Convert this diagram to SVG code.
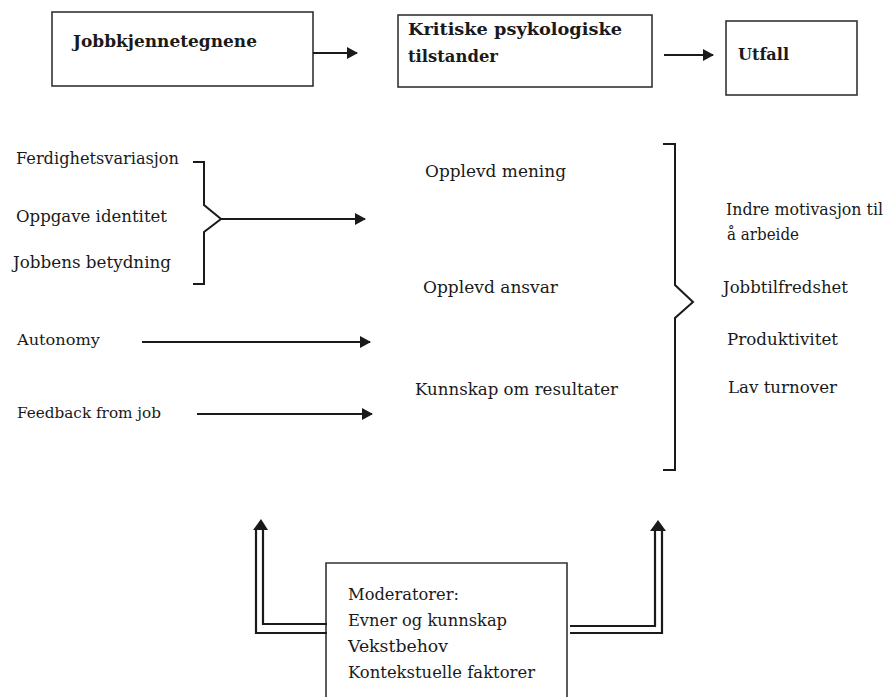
<svg xmlns="http://www.w3.org/2000/svg" width="894" height="697" viewBox="0 0 894 697">
<style>
  .t { font-family: "DejaVu Serif", "Liberation Serif", serif; font-size: 17px; fill: #1a1a1a; }
  .b { font-weight: bold; }
  .s { font-size: 14px; }
  .box { fill: #ffffff; stroke: #333333; stroke-width: 1.6; }
  .ln { fill: none; stroke: #1a1a1a; stroke-width: 2; }
  .dl { fill: none; stroke: #1a1a1a; stroke-width: 2.2; }
</style>
<defs>
  <marker id="ah" markerWidth="11" markerHeight="12" refX="10" refY="6" orient="auto" markerUnits="userSpaceOnUse">
    <path d="M0,0 L11,6 L0,12 Z" fill="#1a1a1a"/>
  </marker>
</defs>
<rect width="894" height="697" fill="#ffffff"/>

<g id="node-jobbkjennetegnene">
  <rect class="box" x="52" y="12" width="261" height="74"/>
  <text class="t b" x="73" y="47" textLength="184" lengthAdjust="spacingAndGlyphs">Jobbkjennetegnene</text>
</g>
<g id="node-kritiske">
  <rect class="box" x="398" y="15" width="254" height="72"/>
  <text class="t b" x="408" y="35" textLength="214" lengthAdjust="spacingAndGlyphs">Kritiske psykologiske</text>
  <text class="t b" x="408" y="62" textLength="90" lengthAdjust="spacingAndGlyphs">tilstander</text>
</g>
<g id="node-utfall">
  <rect class="box" x="726" y="21" width="131" height="74"/>
  <text class="t b" x="738" y="60" textLength="51" lengthAdjust="spacingAndGlyphs">Utfall</text>
</g>

<g id="node-jobbkjennetegn-liste">
  <text class="t" x="16" y="164" textLength="163" lengthAdjust="spacingAndGlyphs">Ferdighetsvariasjon</text>
  <text class="t" x="16" y="222" textLength="151" lengthAdjust="spacingAndGlyphs">Oppgave identitet</text>
  <text class="t" x="13" y="268" textLength="158" lengthAdjust="spacingAndGlyphs">Jobbens betydning</text>
  <text class="t s" x="17" y="345" textLength="83" lengthAdjust="spacingAndGlyphs">Autonomy</text>
  <text class="t s" x="17" y="418" textLength="144" lengthAdjust="spacingAndGlyphs">Feedback from job</text>
</g>

<g id="node-tilstander-liste">
  <text class="t" x="425" y="177" textLength="141" lengthAdjust="spacingAndGlyphs">Opplevd mening</text>
  <text class="t" x="423" y="293" textLength="135" lengthAdjust="spacingAndGlyphs">Opplevd ansvar</text>
  <text class="t" x="415" y="395" textLength="203" lengthAdjust="spacingAndGlyphs">Kunnskap om resultater</text>
</g>

<g id="node-utfall-liste">
  <text class="t" x="726" y="215" textLength="157" lengthAdjust="spacingAndGlyphs">Indre motivasjon til</text>
  <text class="t" x="727" y="240" textLength="72" lengthAdjust="spacingAndGlyphs">å arbeide</text>
  <text class="t" x="723" y="293" textLength="125" lengthAdjust="spacingAndGlyphs">Jobbtilfredshet</text>
  <text class="t" x="727" y="345" textLength="111" lengthAdjust="spacingAndGlyphs">Produktivitet</text>
  <text class="t" x="728" y="393" textLength="109" lengthAdjust="spacingAndGlyphs">Lav turnover</text>
</g>

<g id="node-moderatorer">
  <path class="box" d="M326,700 L326,563 L567,563 L567,700"/>
  <text class="t" x="348" y="600" textLength="111" lengthAdjust="spacingAndGlyphs">Moderatorer:</text>
  <text class="t" x="348" y="626" textLength="159" lengthAdjust="spacingAndGlyphs">Evner og kunnskap</text>
  <text class="t" x="348" y="652" textLength="100" lengthAdjust="spacingAndGlyphs">Vekstbehov</text>
  <text class="t" x="348" y="678" textLength="187" lengthAdjust="spacingAndGlyphs">Kontekstuelle faktorer</text>
</g>

<g id="connectors">
  <line class="ln" x1="313" y1="53" x2="357" y2="53" marker-end="url(#ah)"/>
  <line class="ln" x1="664" y1="55" x2="713" y2="55" marker-end="url(#ah)"/>
  <path class="ln" d="M193,162 L204,162 L204,205 L221,219 L204,232 L204,284 L193,284"/>
  <line class="ln" x1="221" y1="219" x2="365" y2="219" marker-end="url(#ah)"/>
  <line class="ln" x1="142" y1="342" x2="370" y2="342" marker-end="url(#ah)"/>
  <line class="ln" x1="197" y1="414" x2="372" y2="414" marker-end="url(#ah)"/>
  <path class="ln" d="M663,144 L675,144 L675,285 L693,302 L675,318 L675,470 L663,470"/>
  <path class="dl" d="M327,633 L256,633 L256,530"/>
  <path class="dl" d="M327,624 L263,624 L263,530"/>
  <path d="M261,519 L268,530 L253,530 Z" fill="#1a1a1a"/>
  <path class="dl" d="M570,626 L655,626 L655,531"/>
  <path class="dl" d="M570,633 L662,633 L662,531"/>
  <path d="M658,520 L666,531 L650,531 Z" fill="#1a1a1a"/>
</g>
</svg>
